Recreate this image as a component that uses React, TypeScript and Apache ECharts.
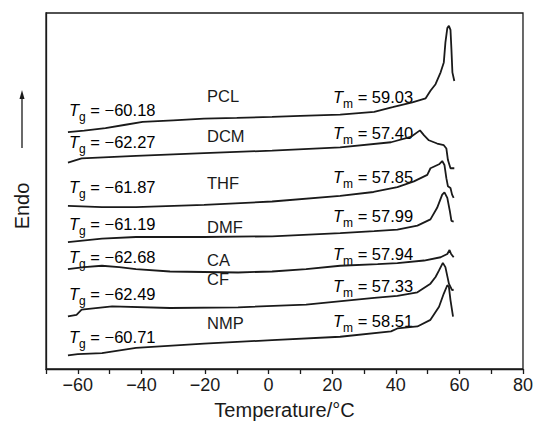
import React, { useEffect, useRef } from "react";
import * as echarts from "echarts";

// x: temperature (°C), y: heat flow (arbitrary units, curves stacked with offsets)
const PCL = [[-63.1,239.5],[-58,241],[-51.3,243.6],[-45,247],[-39.6,249.8],[-30,251.5],[-20.3,253.2],[-10,254],[1.1,254.9],[10,256],[22.5,257.3],[33.2,260.1],[39,264.7],[45.2,269.7],[49.4,273.7],[50.9,281.3],[52.5,288],[54.1,300],[55.1,310],[55.6,330],[56.2,344.7],[56.7,347],[57.2,343],[57.5,323],[57.8,300],[58.4,291.3]];
const DCM = [[-63.1,208.8],[-58.8,212.9],[-41.7,215.6],[-20.3,218.4],[1.1,220.8],[22.5,224.2],[38.5,229.3],[44.7,234.7],[47.6,241.3],[48.9,236.3],[50.4,231.3],[53,228],[55.1,226.3],[55.9,223],[56.4,211.3],[57.2,203],[58.4,203]];
const THF = [[-63.1,165],[-52.4,163.6],[-41.7,163.6],[-20.3,166],[1.1,169.4],[22.5,175],[33,179],[40.5,184],[45.7,189.7],[49.9,196.3],[50.9,203],[53.6,207],[54.6,210.3],[55.3,206.3],[55.9,193],[56.4,184.7],[57.2,183],[57.7,176.3],[58.2,173]];
const DMF = [[-63.1,128.4],[-52.4,131.8],[-41.7,133.5],[-20.3,133.5],[1.1,134.2],[22.5,137.5],[33.2,139.5],[40.5,141],[46.8,145],[50.9,151.3],[53,163],[54.6,176.3],[55.3,178.7],[56.2,173],[57,159.7],[57.5,149.7],[58.2,149]];
const CA = [[-63.1,101],[-58,103],[-52.4,104.4],[-47,103],[-41.7,101],[-31,98.6],[-9.6,97.6],[1.1,98.6],[11.8,101],[22.5,104.4],[34.3,106],[40.5,107],[48.9,109.7],[54.1,113],[56.2,116.3],[56.9,120.3],[57.4,116.3],[58.2,113]];
const CF = [[-63.1,53.1],[-60.4,54.8],[-58.8,60],[-49.2,63.4],[-31,61.7],[-9.6,62.4],[11.8,65.1],[33.2,71.9],[40.5,74],[46.8,77.5],[50.9,86.3],[52.5,93],[53.6,99.7],[54.8,107.3],[55.6,103],[56.7,86.3],[57.7,79.7],[58.2,80.3]];
const NMP = [[-63.1,13.8],[-60,15],[-52.4,16.1],[-41.7,21.3],[-20.3,25.7],[1.1,29.2],[22.5,32.6],[38.5,38],[40.5,41],[46.8,43],[50.9,49.7],[53.6,63],[55.1,76.3],[56.2,84.7],[56.7,83],[57.2,69.7],[58,53]];

const curves = [PCL, DCM, THF, DMF, CA, CF, NMP];
const names = ["PCL", "DCM", "THF", "DMF", "CA", "CF", "NMP"];
const tgValues = ["−60.18", "−62.27", "−61.87", "−61.19", "−62.68", "−62.49", "−60.71"];
const tmValues = ["59.03", "57.40", "57.85", "57.99", "57.94", "57.33", "58.51"];

// label layout (pixel centers): [nameY, tgY, tmY]
const labelRows = [
  [96, 110, 97],
  [136, 142, 133],
  [183, 187, 177],
  [227, 224, 216],
  [260, 257, 254],
  [279, 294, 286],
  [323, 337, 321],
];

const FONT = "'Liberation Sans', Arial, Helvetica, sans-serif";
const INK = "#1a1a1a";

export default function App() {
  const ref = useRef<HTMLDivElement>(null);
  useEffect(() => {
    document.body.style.margin = "0";
    const chart = echarts.init(ref.current!, undefined, { renderer: "svg" });
    const rich = {
      i: { fontStyle: "italic", fontSize: 16.5, lineHeight: 26, verticalAlign: "middle", fontFamily: FONT, color: INK },
      s: { fontSize: 12, lineHeight: 26, verticalAlign: "bottom", fontFamily: FONT, color: INK },
      n: { fontSize: 16.5, lineHeight: 26, verticalAlign: "middle", fontFamily: FONT, color: INK },
    };
    const graphics: any[] = [];
    labelRows.forEach((row, k) => {
      graphics.push({
        type: "text", x: 207, y: row[0],
        style: { text: names[k], fill: INK, font: `16.5px ${FONT}`, textAlign: "left", textVerticalAlign: "middle" },
      });
      graphics.push({
        type: "text", x: 69, y: row[1],
        style: { text: `{i|T}{s|g}{n| = ${tgValues[k]}}`, rich, textAlign: "left", textVerticalAlign: "middle" },
      });
      graphics.push({
        type: "text", x: 333, y: row[2],
        style: { text: `{i|T}{s|m}{n| = ${tmValues[k]}}`, rich, textAlign: "left", textVerticalAlign: "middle" },
      });
    });
    graphics.push({
      type: "text", x: 22, y: 206, rotation: Math.PI / 2,
      style: { text: "Endo", fill: INK, font: `20px ${FONT}`, textAlign: "center", textVerticalAlign: "middle" },
    });
    graphics.push({ type: "line", shape: { x1: 22, y1: 148, x2: 22, y2: 98 }, style: { stroke: INK, lineWidth: 1.3 } });
    graphics.push({ type: "polygon", shape: { points: [[22, 90], [19.5, 99], [24.5, 99]] }, style: { fill: INK } });

    chart.setOption({
      animation: false,
      backgroundColor: "#fff",
      grid: { left: 46, right: 10, top: 13, bottom: 52, show: true, borderColor: INK, borderWidth: 1.3 },
      xAxis: {
        type: "value", min: -70, max: 80, interval: 10,
        axisLine: { show: true, onZero: false, lineStyle: { color: INK, width: 1.3 } },
        axisTick: { show: true, inside: false, length: 5, lineStyle: { color: INK, width: 1.3 } },
        splitLine: { show: false },
        axisLabel: {
          color: INK, fontSize: 18, fontFamily: FONT, margin: 7, showMaxLabel: true, showMinLabel: true,
          formatter: (v: number) => (v % 20 === 0 ? String(v).replace("-", "−") : ""),
        },
        name: "Temperature/°C", nameLocation: "middle", nameGap: 31,
        nameTextStyle: { color: INK, fontSize: 20, fontFamily: FONT },
      },
      yAxis: {
        type: "value", min: 0, max: 360,
        axisLine: { show: true, onZero: false, lineStyle: { color: INK, width: 1.3 } },
        axisTick: { show: false }, axisLabel: { show: false }, splitLine: { show: false },
      },
      series: curves.map((d, k) => ({
        type: "line", name: names[k], data: d, showSymbol: false, smooth: false,
        lineStyle: { color: INK, width: 1.8 },
      })),
      graphic: graphics,
    });
    return () => chart.dispose();
  }, []);
  return <div ref={ref} style={{ width: 536, height: 425 }} />;
}
